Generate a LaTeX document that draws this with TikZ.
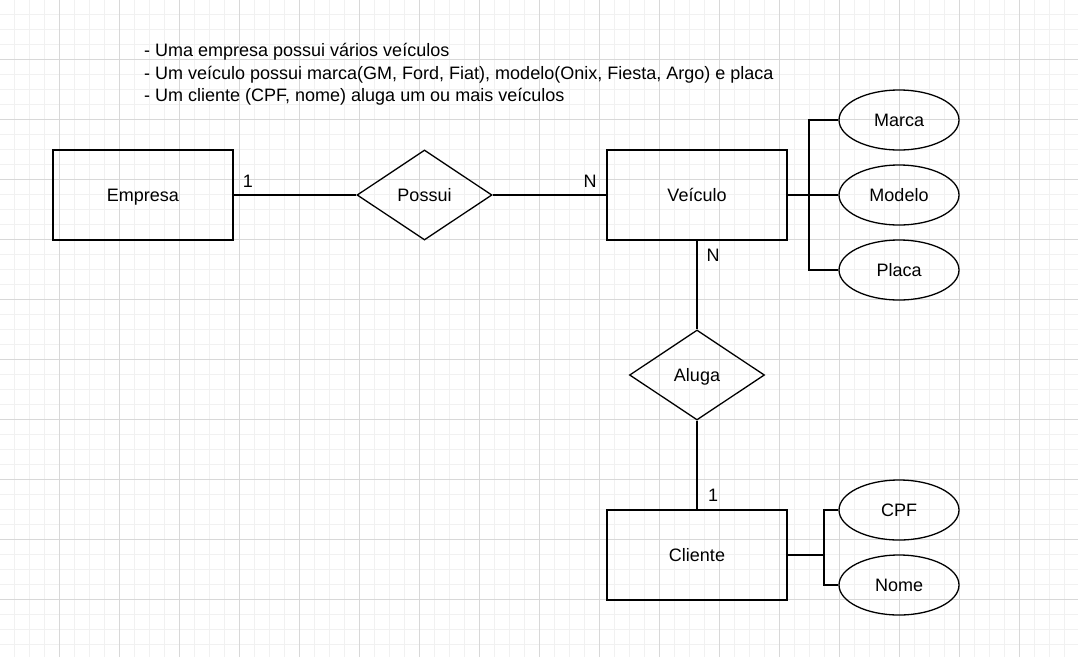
\documentclass[tikz,border=0pt]{standalone}
\usepackage{xcolor}
\usepackage{fontspec}
\setmainfont{Liberation Sans}
\usepackage{tikz}
\usetikzlibrary{shapes.geometric}

\definecolor{gridminor}{RGB}{241,241,241}
\definecolor{gridmajor}{RGB}{216,216,216}

\begin{document}
\begin{tikzpicture} [
                x=1pt, y=-1pt,
                font=\fontsize{18pt}{22.5pt}\selectfont,
                entity/.style = {draw, line width=1.3pt, minimum width=180pt, minimum height=90pt, text height=13pt, text depth=0pt},
                relation/.style = {draw, line width=1.3pt, diamond, inner sep=0pt, minimum width=135pt, minimum height=90pt, text height=13pt, text depth=0pt},
                attribute/.style = {draw, line width=1.3pt, ellipse, inner sep=0pt, minimum width=120pt, minimum height=60pt, text height=13pt, text depth=0pt},
                card/.style = {inner sep=0pt, text height=13pt, text depth=0pt},
                link/.style = {line width=1.3pt}
            ]
            \fill[white] (0,0) rectangle (1078,657);
            \useasboundingbox (0,0) rectangle (1078,657);
            % grid paper
            \foreach \g in {14.5,29.5,...,1080} \draw[gridminor, line width=1pt] (\g,0) -- (\g,657);
            \foreach \g in {14.5,29.5,...,660} \draw[gridminor, line width=1pt] (0,\g) -- (1078,\g);
            \foreach \g in {59.5,119.5,...,1080} \draw[gridmajor, line width=1pt] (\g,0) -- (\g,657);
            \foreach \g in {59.5,119.5,...,660} \draw[gridmajor, line width=1pt] (0,\g) -- (1078,\g);

            \node (note1) [anchor=base west, inner sep=0pt] at (144,56.5) {- Uma empresa possui vários veículos};
            \node (note2) [anchor=base west, inner sep=0pt] at (144,79) {- Um veículo possui marca(GM, Ford, Fiat), modelo(Onix, Fiesta, Argo) e placa};
            \node (note3) [anchor=base west, inner sep=0pt] at (144,101.5) {- Um cliente (CPF, nome) aluga um ou mais veículos};

            \node (empresa) at (143,195) [entity] {Empresa};
            \node (possui) at (424.5,195) [relation] {Possui};
            \node (veiculo) at (697,195) [entity] {Veículo};
            \node (aluga) at (697,375) [relation] {Aluga};
            \node (cliente) at (697,555) [entity] {Cliente};

            \node (marca) at (899,120) [attribute] {Marca};
            \node (modelo) at (899,195) [attribute] {Modelo};
            \node (placa) at (899,270) [attribute] {Placa};
            \node (cpf) at (899,510) [attribute] {CPF};
            \node (nome) at (899,585) [attribute] {Nome};

            \draw [link] (empresa) -- (possui);
            \draw [link] (possui) -- (veiculo);
            \draw [link] (veiculo) -- (aluga);
            \draw [link] (aluga) -- (cliente);

            \coordinate (vbus) at (809,195);
            \draw [link] (veiculo.east) -- (vbus) |- (marca.west);
            \draw [link] (vbus) -- (modelo.west);
            \draw [link] (vbus) |- (placa.west);
            \coordinate (cbus) at (824,555);
            \draw [link] (cliente.east) -- (cbus) |- (cpf.west);
            \draw [link] (cbus) |- (nome.west);

            \node (c1) at (248,181) [card] {1};
            \node (c2) at (590,181) [card] {N};
            \node (c3) at (713,255) [card] {N};
            \node (c4) at (713,494.5) [card] {1};
        \end{tikzpicture}
\end{document}
